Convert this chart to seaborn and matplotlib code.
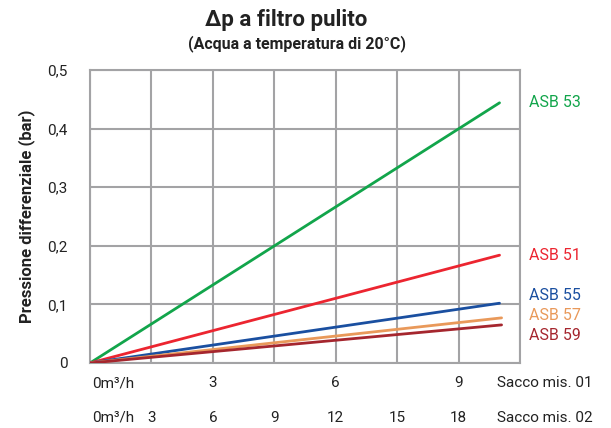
import matplotlib
matplotlib.use("Agg")
import matplotlib.pyplot as plt
import matplotlib.transforms as mtransforms
import seaborn as sns
import pandas as pd

# ---- data ----
series = ["ASB 53", "ASB 51", "ASB 55", "ASB 57", "ASB 59"]
flow_start = [0, 0, 0, 0, 0]            # in Sacco mis. 02 units (m³/h)
flow_end = [20.0, 20.0, 20.0, 20.1, 20.1]
dp_start = [0, 0, 0, 0, 0]
dp_end = [0.444, 0.184, 0.102, 0.077, 0.065]
colors = ["#12a54b", "#ec2530", "#1a4fa0", "#e9995a", "#a5262e"]
label_y = [0.445, 0.184, 0.115, 0.081, 0.047]

yticks = [0, 0.1, 0.2, 0.3, 0.4, 0.5]
ytick_labels = ["0", "0,1", "0,2", "0,3", "0,4", "0,5"]
xgrid = [0, 3, 6, 9, 12, 15, 18, 21]
row1_pos = [6, 12, 18]
row1_labels = ["3", "6", "9"]
row2_pos = [3, 6, 9, 12, 15, 18]
row2_labels = ["3", "6", "9", "12", "15", "18"]

rows = []
for s, x0, x1, y0, y1 in zip(series, flow_start, flow_end, dp_start, dp_end):
    rows.append({"serie": s, "portata": x0, "dp": y0})
    rows.append({"serie": s, "portata": x1, "dp": y1})
df = pd.DataFrame(rows)

sns.set_theme(style="white")
plt.rcParams["font.family"] = ["Roboto", "DejaVu Sans"]

fig = plt.figure(figsize=(6.11, 4.28), dpi=100)
ax = fig.add_axes([90 / 611, 1 - 363 / 428, 430 / 611, 293 / 428])

sns.lineplot(data=df, x="portata", y="dp", hue="serie", hue_order=series,
             palette=dict(zip(series, colors)), linewidth=2, legend=False, ax=ax,
             zorder=3)

ax.set_xlim(0, 21)
ax.set_ylim(0, 0.5)
ax.set_xticks(xgrid)
ax.set_xticklabels([])
ax.set_yticks(yticks)
ax.set_yticklabels(ytick_labels, fontsize=11, color="#222222")
ax.tick_params(axis="y", length=0, pad=16)
ax.tick_params(axis="x", length=0)
ax.grid(True, color="#a3a3a5", linewidth=1.5)
for sp in ax.spines.values():
    sp.set_color("#a3a3a5")
    sp.set_linewidth(1.5)
ax.set_xlabel("")
ax.set_ylabel("Pressione differenziale (bar)", fontsize=12, fontweight="bold",
              color="#222222", labelpad=9)

# right labels
for s, c, ly in zip(series, colors, label_y):
    ax.text(21 + 0.45, ly, s, color=c, fontsize=11.5, va="center", ha="left",
            clip_on=False)

# bottom x label rows
trans = mtransforms.blended_transform_factory(ax.transData, ax.transAxes)
r1y = -(383 - 363) / 293
r2y = -(418 - 363) / 293
ax.text(0.1, r1y, "0m³/h", transform=trans, ha="left", va="center", fontsize=11, color="#222222")
ax.text(0.1, r2y, "0m³/h", transform=trans, ha="left", va="center", fontsize=11, color="#222222")
for p, l in zip(row1_pos, row1_labels):
    ax.text(p, r1y, l, transform=trans, ha="center", va="center", fontsize=11, color="#222222")
for p, l in zip(row2_pos, row2_labels):
    ax.text(p, r2y, l, transform=trans, ha="center", va="center", fontsize=11, color="#222222")
ax.text(19.9, r1y, "Sacco mis. 01", transform=trans, ha="left", va="center", fontsize=11, color="#222222")
ax.text(19.9, r2y, "Sacco mis. 02", transform=trans, ha="left", va="center", fontsize=11, color="#222222")

fig.text(286 / 611, 1 - 20 / 428, "Δp a filtro pulito", ha="center", va="center",
         fontsize=16, fontweight="bold", color="#222222")
fig.text(297 / 611, 1 - 44 / 428, "(Acqua a temperatura di 20°C)", ha="center", va="center",
         fontsize=11.5, fontweight="bold", color="#222222")

fig.savefig("out.png", dpi=100, facecolor="white")
